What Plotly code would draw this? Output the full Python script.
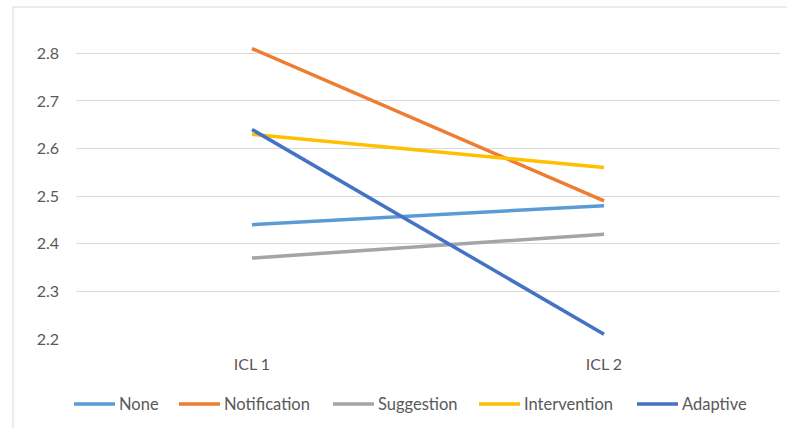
import plotly.graph_objects as go

# ICL measurements for each support condition
categories = ["ICL 1", "ICL 2"]
series_names = ["None", "Notification", "Suggestion", "Intervention", "Adaptive"]
none_vals = [2.44, 2.48]
notification_vals = [2.81, 2.49]
suggestion_vals = [2.37, 2.42]
intervention_vals = [2.63, 2.56]
adaptive_vals = [2.64, 2.21]
y_ticks = [2.2, 2.3, 2.4, 2.5, 2.6, 2.7, 2.8]

series_values = [none_vals, notification_vals, suggestion_vals, intervention_vals, adaptive_vals]
colors = ["#5B9BD5", "#ED7D31", "#A5A5A5", "#FFC000", "#4472C4"]

FONT = "Lato, 'Noto Sans', sans-serif"
TEXT_COLOR = "#595959"

# plot-area geometry (pixels) used to place the legend row below the axis
W, H = 787, 428
M_L, M_R, M_T, M_B = 76, 7, 39, 89
PW, PH = W - M_L - M_R, H - M_T - M_B


def px_x(px):
    return (px - M_L) / PW


def px_y(py):
    return (H - M_B - py) / PH


fig = go.Figure()
for name, vals, color in zip(series_names, series_values, colors):
    fig.add_trace(go.Scatter(
        x=categories, y=vals, name=name, mode="lines",
        line=dict(color=color, width=3.5), showlegend=False,
    ))

# legend row: a short line sample followed by the series name
legend_starts = [73, 178, 332, 478, 636]
legend_y = px_y(404)
shapes = [dict(
    type="rect", xref="paper", yref="paper",
    x0=px_x(13), x1=1.2, y0=-0.6, y1=px_y(7),
    line=dict(color="#D9D9D9", width=1), fillcolor="rgba(0,0,0,0)",
    layer="below",
)]
annotations = []
for name, color, start in zip(series_names, colors, legend_starts):
    shapes.append(dict(
        type="line", xref="paper", yref="paper",
        x0=px_x(start + 1), x1=px_x(start + 42), y0=legend_y, y1=legend_y,
        line=dict(color=color, width=3.5),
    ))
    annotations.append(dict(
        xref="paper", yref="paper", x=px_x(start + 44), y=legend_y,
        xanchor="left", yanchor="middle", text=name, showarrow=False,
        font=dict(family=FONT, size=16.5, color=TEXT_COLOR),
    ))

fig.update_layout(
    width=W, height=H,
    margin=dict(l=M_L, r=M_R, t=M_T, b=M_B),
    paper_bgcolor="white", plot_bgcolor="white",
    font=dict(family=FONT, size=16, color=TEXT_COLOR),
    showlegend=False,
    xaxis=dict(
        type="category", range=[-0.5, 1.5], showgrid=False, zeroline=False,
        showline=False, ticks="", ticklabelstandoff=14,
        tickfont=dict(family=FONT, size=16, color=TEXT_COLOR),
    ),
    yaxis=dict(
        range=[2.2, 2.83], tickvals=y_ticks, ticktext=[f"{v:.1f}" for v in y_ticks],
        showgrid=True, gridcolor="#D9D9D9", gridwidth=1, zeroline=False,
        showline=False, ticks="", ticklabelstandoff=16,
        tickfont=dict(family=FONT, size=16, color=TEXT_COLOR),
    ),
    shapes=shapes,
    annotations=annotations,
)

fig.write_html("out.html")
